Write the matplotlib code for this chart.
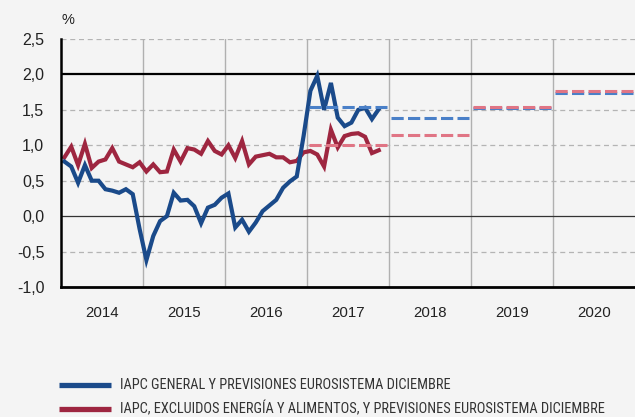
import numpy as np
import matplotlib
matplotlib.use("Agg")
import matplotlib.pyplot as plt
from matplotlib.ticker import FuncFormatter
from matplotlib import font_manager as fm

# ---------------- data ----------------
start_year = 2014
headline = [0.77, 0.70, 0.47, 0.72, 0.50, 0.50, 0.38, 0.36, 0.33, 0.38, 0.31, -0.18,
            -0.62, -0.28, -0.07, 0.00, 0.33, 0.22, 0.23, 0.14, -0.10, 0.12, 0.16, 0.26,
            0.32, -0.16, -0.05, -0.22, -0.09, 0.07, 0.15, 0.23, 0.40, 0.49, 0.56, 1.13,
            1.77, 1.98, 1.50, 1.88, 1.39, 1.27, 1.32, 1.50, 1.53, 1.37, 1.51]
core = [0.83, 0.98, 0.72, 1.02, 0.68, 0.77, 0.80, 0.96, 0.77, 0.73, 0.69, 0.76,
        0.63, 0.73, 0.62, 0.63, 0.94, 0.77, 0.96, 0.94, 0.88, 1.06, 0.92, 0.87,
        1.00, 0.82, 1.06, 0.73, 0.84, 0.86, 0.88, 0.83, 0.83, 0.76, 0.78, 0.90,
        0.92, 0.87, 0.70, 1.22, 0.97, 1.13, 1.16, 1.17, 1.12, 0.89, 0.93]
proj_years = [2017, 2018, 2019, 2020]
proj_headline = [1.54, 1.39, 1.52, 1.735]
proj_core = [1.00, 1.14, 1.535, 1.765]
year_labels = ["2014", "2015", "2016", "2017", "2018", "2019", "2020"]
y_ticks = [-1.0, -0.5, 0.0, 0.5, 1.0, 1.5, 2.0, 2.5]
legend_labels = ["IAPC GENERAL Y PREVISIONES EUROSISTEMA DICIEMBRE",
                 "IAPC, EXCLUIDOS ENERGÍA Y ALIMENTOS, Y PREVISIONES EUROSISTEMA DICIEMBRE"]

# ---------------- style ----------------
BG = "#f4f4f4"
BLUE = "#1a4a8a"
BLUE_D = "#4a80c8"
RED = "#9e2640"
RED_D = "#e07585"
font = ["Liberation Sans", "DejaVu Sans"]

# pick a condensed face for the legend if one is installed
names = {f.name for f in fm.fontManager.ttflist}
leg_kw = dict(family=["Liberation Sans", "DejaVu Sans"])
for cand in ["Liberation Sans Narrow", "Arial Narrow", "Roboto Condensed",
             "Open Sans Condensed", "DejaVu Sans Condensed"]:
    if cand in names:
        leg_kw = dict(family=[cand, "DejaVu Sans"])
        break
else:
    has_cond = any(f.name == "DejaVu Sans" and f.stretch in ("condensed", 400 - 100, 300)
                   for f in fm.fontManager.ttflist)
    if has_cond:
        leg_kw = dict(family=["DejaVu Sans"], stretch="condensed")

fig = plt.figure(figsize=(6.35, 4.17), dpi=100, facecolor=BG)
ax = fig.add_axes([61 / 635, 1 - 287 / 417, 1 - 61 / 635, (287 - 39) / 417])
ax.set_facecolor(BG)

n = len(headline)
x = start_year + (np.arange(n) + 0.5) / 12.0

# grid lines
for yv in [-0.5, 0.5, 1.0, 1.5, 2.5]:
    ax.axhline(yv, color="#b4b4b4", lw=0.9, ls=(0, (4, 3)), zorder=1)
for xv in range(2015, 2021):
    ax.axvline(xv, color="#b0b0b0", lw=1.0, zorder=1)
ax.axhline(2.0, color="black", lw=1.6, zorder=2)
ax.axhline(0.0, color="#333333", lw=0.9, zorder=2)

# actual lines
ax.plot(x, core, color=RED, lw=3.0, zorder=4, solid_joinstyle="miter")
ax.plot(x, headline, color=BLUE, lw=3.0, zorder=5, solid_joinstyle="miter")

# projections
for yr, h, c in zip(proj_years, proj_headline, proj_core):
    xs = [yr + 0.03, yr + 0.97]
    ax.plot(xs, [h, h], color=BLUE_D, lw=2.2, dashes=(4, 1.4), zorder=6)
    ax.plot(xs, [c, c], color=RED_D, lw=2.2, dashes=(4, 1.4), zorder=6)

ax.set_xlim(2014, 2021)
ax.set_ylim(-1.0, 2.5)
ax.set_yticks(y_ticks)
ax.yaxis.set_major_formatter(FuncFormatter(lambda v, p: f"{v:.1f}".replace(".", ",")))
ax.tick_params(axis="y", length=0, pad=12, labelsize=11.5, labelcolor="#222222")
ax.set_xticks([2014.5 + i for i in range(len(year_labels))])
ax.set_xticklabels(year_labels)
ax.tick_params(axis="x", length=0, pad=14, labelsize=10.8, labelcolor="#222222")
for lab in ax.get_xticklabels() + ax.get_yticklabels():
    lab.set_family(font)

for s in ["top", "right"]:
    ax.spines[s].set_visible(False)
ax.spines["left"].set_linewidth(1.8)
ax.spines["bottom"].set_linewidth(2.0)
ax.spines["left"].set_zorder(7)
ax.spines["bottom"].set_zorder(7)

fig.text(62 / 635, 1 - 20 / 417, "%", family=font, fontsize=10.5, color="#222222",
         va="center", ha="left")

# legend
texts = []
for i, (lab, col) in enumerate(zip(legend_labels, [BLUE, RED])):
    yy = 1 - (385 + 24 * i) / 417
    fig.add_artist(plt.Line2D([59 / 635, 111 / 635], [yy, yy], color=col, lw=3.8,
                              transform=fig.transFigure, solid_capstyle="butt"))
    texts.append(fig.text(120 / 635, yy, lab, fontsize=10, color="#333333",
                          va="center", ha="left", **leg_kw))

# fit the long legend line to the reference width (120 -> 607 px)
fig.canvas.draw()
r = fig.canvas.get_renderer()
w = texts[1].get_window_extent(r).width
size = min(10.5, 10 * 487.0 / w)
for t in texts:
    t.set_fontsize(size)

fig.savefig("out.png", dpi=100, facecolor=BG)
